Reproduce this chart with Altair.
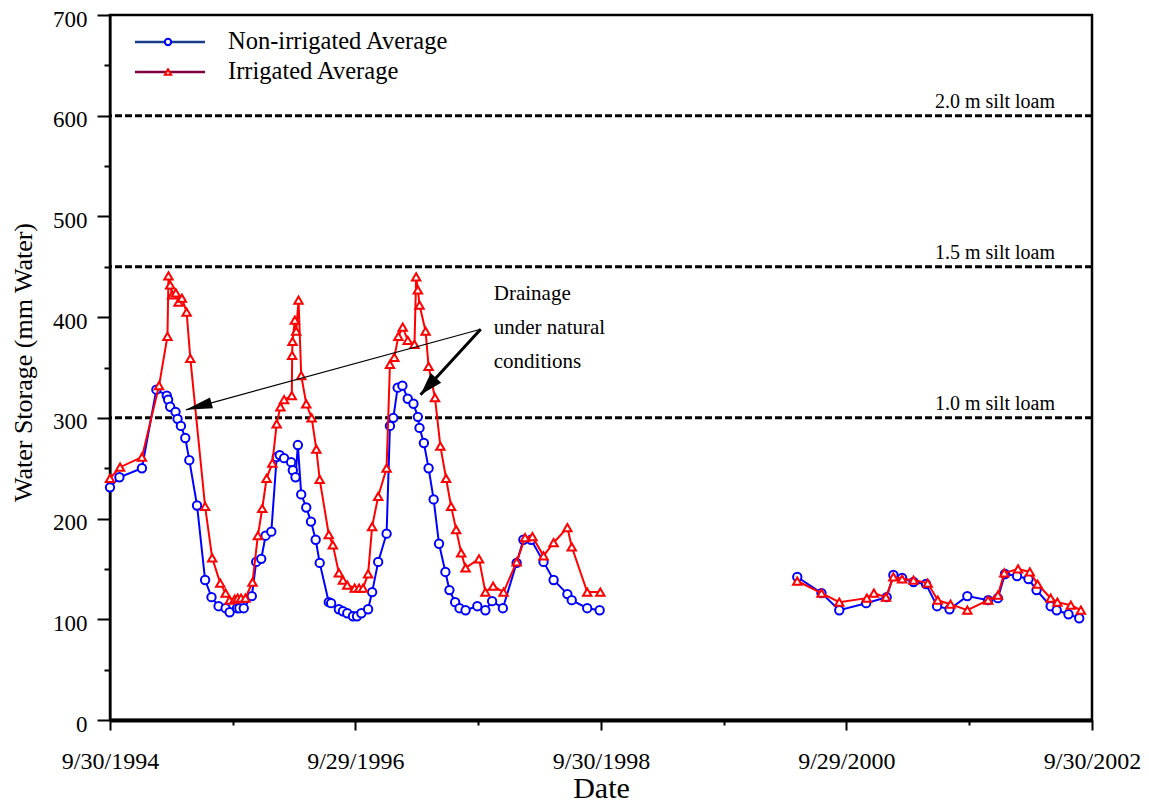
import altair as alt
import pandas as pd

# ---------------- data ----------------
non_irr_dates = [
    "1994-09-30", "1994-10-28", "1995-01-03", "1995-02-15", "1995-03-18", "1995-03-22",
    "1995-03-28", "1995-04-13", "1995-04-19", "1995-04-29", "1995-05-12", "1995-05-24",
    "1995-06-16", "1995-07-10", "1995-07-29", "1995-08-19", "1995-09-09", "1995-09-21",
    "1995-10-13", "1995-10-20", "1995-11-02", "1995-11-26", "1995-12-09", "1995-12-24",
    "1996-01-06", "1996-01-23", "1996-02-08", "1996-02-17", "1996-03-01", "1996-03-22",
    "1996-03-27", "1996-04-04", "1996-04-11", "1996-04-21", "1996-05-06", "1996-05-20",
    "1996-06-03", "1996-06-15", "1996-07-12", "1996-07-19", "1996-08-11", "1996-08-23",
    "1996-09-05", "1996-09-22", "1996-10-04", "1996-10-17", "1996-11-06", "1996-11-18",
    "1996-12-06", "1996-12-31", "1997-01-10", "1997-01-20", "1997-02-02", "1997-02-16",
    "1997-03-04", "1997-03-21", "1997-04-03", "1997-04-08", "1997-04-21", "1997-05-05",
    "1997-05-20", "1997-06-05", "1997-06-24", "1997-07-06", "1997-07-23", "1997-08-05",
    "1997-08-23", "1997-09-27", "1997-10-21", "1997-11-10", "1997-12-12", "1998-01-22",
    "1998-02-11", "1998-03-06", "1998-04-12", "1998-05-12", "1998-06-22", "1998-07-05",
    "1998-08-20", "1998-09-26",
    "2000-05-06", "2000-07-17", "2000-09-08", "2000-11-27", "2001-01-27", "2001-02-16",
    "2001-03-14", "2001-04-17", "2001-05-24", "2001-06-26", "2001-08-02", "2001-09-24",
    "2001-11-25", "2001-12-24", "2002-01-14", "2002-02-19", "2002-03-25", "2002-04-18",
    "2002-05-30", "2002-06-17", "2002-07-22", "2002-08-23",
]
non_irr_values = [
    231, 241, 250, 328, 322, 318,
    311, 306, 299, 292, 280, 258,
    213, 139, 122, 113, 111, 107,
    111, 111, 111, 123, 157, 160,
    183, 187, 261, 263, 260, 256,
    248, 241, 273, 224, 211, 197,
    179, 156, 117, 116, 110, 108,
    106, 103, 103, 106, 110, 127,
    157, 185, 292, 300, 330, 332,
    319, 314, 301, 290, 275, 250,
    219, 175, 147, 129, 117, 111,
    109, 113, 109, 118, 111, 156,
    179, 179, 157, 139, 125, 119,
    111, 109,
    142, 126, 109, 116, 122, 144,
    141, 137, 135, 113, 110, 123,
    119, 121, 145, 143, 140, 129,
    113, 109, 105, 101,
]

irr_dates = [
    "1994-09-30", "1994-10-30", "1995-01-03", "1995-02-23", "1995-03-20", "1995-03-23",
    "1995-03-28", "1995-04-03", "1995-04-14", "1995-04-22", "1995-05-02", "1995-05-16",
    "1995-05-27", "1995-07-10", "1995-07-31", "1995-08-24", "1995-09-09", "1995-09-21",
    "1995-10-06", "1995-10-15", "1995-10-25", "1995-11-07", "1995-11-28", "1995-12-14",
    "1995-12-27", "1996-01-09", "1996-01-26", "1996-02-08", "1996-02-19", "1996-03-01",
    "1996-03-24", "1996-03-25", "1996-03-26", "1996-04-02", "1996-04-06", "1996-04-13",
    "1996-04-21", "1996-05-06", "1996-05-22", "1996-06-05", "1996-06-15", "1996-07-12",
    "1996-07-24", "1996-08-11", "1996-08-23", "1996-09-05", "1996-09-27", "1996-10-10",
    "1996-10-22", "1996-11-06", "1996-11-18", "1996-12-06", "1996-12-31", "1997-01-10",
    "1997-01-23", "1997-02-04", "1997-02-17", "1997-03-04", "1997-03-24", "1997-03-29",
    "1997-04-03", "1997-04-08", "1997-04-26", "1997-05-05", "1997-05-24", "1997-06-09",
    "1997-06-26", "1997-07-11", "1997-07-26", "1997-08-10", "1997-08-23", "1997-10-02",
    "1997-10-21", "1997-11-13", "1997-12-14", "1998-01-22", "1998-02-16", "1998-03-10",
    "1998-04-12", "1998-05-12", "1998-06-22", "1998-07-05", "1998-08-20", "1998-09-28",
    "2000-05-06", "2000-07-17", "2000-09-08", "2000-11-29", "2000-12-20", "2001-01-25",
    "2001-02-16", "2001-03-14", "2001-04-17", "2001-05-29", "2001-06-28", "2001-08-05",
    "2001-09-24", "2001-11-25", "2001-12-24", "2002-01-12", "2002-02-22", "2002-03-29",
    "2002-04-21", "2002-05-30", "2002-06-19", "2002-07-29", "2002-08-28",
]
irr_values = [
    240, 251, 261, 332, 381, 441,
    432, 422, 424, 415, 419, 405,
    359, 212, 161, 136, 126, 119,
    120, 121, 121, 121, 137, 183,
    210, 240, 255, 294, 311, 318,
    322, 362, 376, 397, 386, 417,
    342, 314, 300, 269, 239, 184,
    174, 146, 139, 134, 131, 131,
    131, 145, 192, 222, 250, 353,
    360, 381, 390, 377, 373, 440,
    427, 412, 386, 351, 320, 272,
    240, 212, 189, 166, 151, 160,
    127, 133, 127, 157, 181, 182,
    163, 176, 191, 172, 127, 127,
    138, 126, 117, 121, 126, 122,
    142, 140, 139, 136, 119, 115,
    109, 119, 124, 146, 150, 147,
    135, 121, 117, 114, 109,
]

ref_depths = [300, 450, 600]
ref_labels = ["1.0 m silt loam", "1.5 m silt loam", "2.0 m silt loam"]

x_tick_dates = ["1994-09-30", "1995-09-30", "1996-09-29", "1997-09-30", "1998-09-30",
                "1999-09-30", "2000-09-29", "2001-09-30", "2002-09-30"]
x_domain = ["1994-09-30", "2002-09-30"]
y_ticks = list(range(0, 701, 50))

annotation_lines = ["Drainage", "under natural", "conditions"]
annotation_anchor = ("1997-11-15", 417)
arrow_start = ("1997-10-07", 388)
arrow_tips = [("1995-05-14", 308), ("1997-04-11", 323)]

legend_names = ["Non-irrigated Average", "Irrigated Average"]

SERIF = "Liberation Serif, Times New Roman, Times, serif"
BLUE = "#0000ff"
RED = "#ff0000"


def dt(s):
    y, m, d = (int(v) for v in s.split("-"))
    return alt.DateTime(year=y, month=m, date=d, utc=True)


def series_frame(dates, values):
    return pd.DataFrame({
        "date": dates,
        "value": values,
        "period": ["a" if d < "1999-06-01" else "b" for d in dates],
    })


non_df = series_frame(non_irr_dates, non_irr_values)
irr_df = series_frame(irr_dates, irr_values)
ref_df = pd.DataFrame({"value": ref_depths, "label": ref_labels})

# ---------------- scales / axes ----------------
x_scale = alt.Scale(type="utc", domain=[dt(d) for d in x_domain], nice=False)
y_scale = alt.Scale(domain=[0, 700], nice=False)

x_axis = alt.Axis(
    values=[dt(d) for d in x_tick_dates],
    labelExpr="utcyear(datum.value) % 2 === 0 ? utcFormat(datum.value, '%-m/%-d/%Y') : ''",
    labelFlush=False,
    labelOverlap=False,
    labelFont=SERIF, labelFontSize=24, labelColor="black",
    labelBaseline="alphabetic", labelPadding=38,
    tickSize={"condition": {"test": "utcyear(datum.value) % 2 === 0", "value": 10}, "value": 5},
    tickColor="black", tickWidth=2,
    domainColor="black", domainWidth=4,
    grid=False,
    title="Date", titleFont=SERIF, titleFontSize=30, titleFontWeight="normal",
    titleColor="black", titleBaseline="alphabetic", titleY=77,
)
y_axis = alt.Axis(
    values=y_ticks,
    labelExpr="datum.value % 100 === 0 ? datum.label : ''",
    labelFont=SERIF, labelFontSize=23, labelColor="black", labelPadding=10,
    labelOffset=4,
    tickSize={"condition": {"test": "datum.value % 100 === 0", "value": 13}, "value": 6},
    tickColor="black", tickWidth=2,
    domainColor="black", domainWidth=2,
    grid=False,
    title="Water Storage (mm Water)", titleFont=SERIF, titleFontSize=26,
    titleFontWeight="normal", titleColor="black", titleX=-74, titleY=347,
)

X = alt.X("date:T", scale=x_scale, axis=x_axis)
Y = alt.Y("value:Q", scale=y_scale, axis=y_axis)

# ---------------- layers ----------------
ref_rules = alt.Chart(ref_df).mark_rule(
    color="black", strokeWidth=3, strokeDash=[7, 3]
).encode(y=Y)

ref_text = alt.Chart(ref_df).mark_text(
    align="right", baseline="alphabetic", dy=-8, font=SERIF, fontSize=20, color="black"
).encode(x=alt.value(945), y=Y, text="label:N")


def series_layers(df, color, shape):
    line = alt.Chart(df).mark_line(color=color, strokeWidth=2).encode(
        x=X, y=Y, detail="period:N", order="date:T"
    )
    pts = alt.Chart(df).mark_point(
        shape=shape, filled=True, fill="white", stroke=color, strokeWidth=2,
        size=70, opacity=1
    ).encode(x=X, y=Y)
    return line + pts


blue = series_layers(non_df, BLUE, "circle")
red = series_layers(irr_df, RED, "triangle-up")

ann_df = pd.DataFrame({"date": [annotation_anchor[0]], "value": [annotation_anchor[1]],
                       "text": [annotation_lines]})
ann = alt.Chart(ann_df).mark_text(
    align="left", baseline="alphabetic", font=SERIF, fontSize=21, color="black", lineHeight=34
).encode(x=X, y=Y, text="text")

arrow_df = pd.DataFrame({
    "date": [arrow_start[0]] * 2,
    "value": [arrow_start[1]] * 2,
    "date_end": [t[0] for t in arrow_tips],
    "value_end": [t[1] for t in arrow_tips],
    "which": ["a", "b"],
})
arrow1 = alt.Chart(arrow_df[arrow_df.which == "a"]).mark_rule(
    color="black", strokeWidth=1.2
).encode(x=X, y=Y, x2="date_end:T", y2="value_end:Q")
arrow2 = alt.Chart(arrow_df[arrow_df.which == "b"]).mark_rule(
    color="black", strokeWidth=3
).encode(x=X, y=Y, x2="date_end:T", y2="value_end:Q")

tips_df = pd.DataFrame({"date": [t[0] for t in arrow_tips], "value": [t[1] for t in arrow_tips]})
head1 = alt.Chart(tips_df.iloc[[0]]).mark_point(
    shape="M0,0L0.42,2L-0.42,2Z", filled=True, color="black", size=700, angle=254.6, opacity=1
).encode(x=X, y=Y)
head2 = alt.Chart(tips_df.iloc[[1]]).mark_point(
    shape="M0,0L0.62,2L-0.62,2Z", filled=True, color="black", size=520, angle=222.6, opacity=1
).encode(x=X, y=Y)

# ---------------- legend (drawn by hand) ----------------
leg_src = pd.DataFrame({"k": [0]})
legend_layers = []
for name, line_col, mark_col, shape, ly in [
    (legend_names[0], "#1a3c8c", BLUE, "circle", 27),
    (legend_names[1], "#800040", RED, "triangle-up", 57),
]:
    legend_layers.append(
        alt.Chart(leg_src).mark_rule(color=line_col, strokeWidth=2.5).encode(
            x=alt.value(25), x2=alt.value(95), y=alt.value(ly))
    )
    legend_layers.append(
        alt.Chart(leg_src).mark_point(
            shape=shape, filled=True, fill="white", stroke=mark_col, strokeWidth=2,
            size=40, opacity=1
        ).encode(x=alt.value(58), y=alt.value(ly))
    )
    legend_layers.append(
        alt.Chart(leg_src).mark_text(
            align="left", baseline="middle", font=SERIF, fontSize=24.5, color="black"
        ).encode(x=alt.value(118), y=alt.value(ly), text=alt.value(name))
    )

chart = alt.layer(
    ref_rules, blue, red, ref_text, ann, arrow1, arrow2, head1, head2, *legend_layers
).properties(
    width=982, height=705,
    padding={"left": 102, "top": 7, "right": 49, "bottom": 84},
    autosize=alt.AutoSizeParams(type="none"),
    background="white",
).configure_view(
    stroke="black", strokeWidth=2.5
).configure_text(
    font=SERIF
).configure_axis(
    labelFont=SERIF, titleFont=SERIF
)

chart.save("out.html", embed_options={"renderer": "svg", "actions": False})
